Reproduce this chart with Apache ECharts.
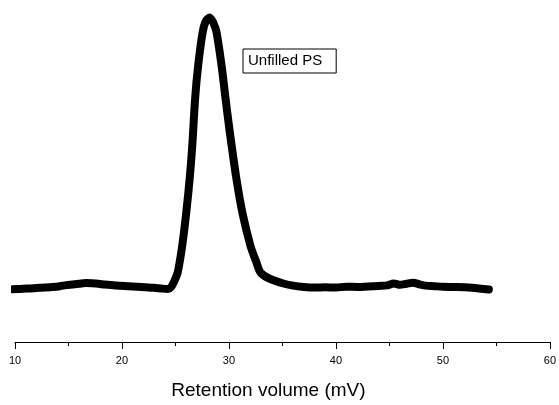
<!DOCTYPE html>
<html>
<head>
<meta charset="utf-8">
<script src="https://cdn.jsdelivr.net/npm/echarts@6/dist/echarts.min.js"></script>
<style>
html,body{margin:0;padding:0;background:#fff;}
#chart{width:559px;height:405px;}
</style>
</head>
<body>
<div id="chart"></div>
<script>
// Retention volume values (x) and detector signal (y, arbitrary units)
var retentionVolume = [
  9.8, 10.5, 11.2, 12.0, 12.8, 13.5, 14.2, 14.8, 15.4, 16.0, 16.6, 17.2, 17.8, 18.4, 19.0, 19.8,
  20.6, 21.4, 22.2, 23.0, 23.8, 24.3, 24.6, 24.9, 25.21, 25.63, 26.0, 26.32, 26.56, 26.84, 27.12,
  27.54, 27.82, 28.19, 28.56, 28.84, 29.31, 29.68, 30.06, 30.71, 31.27, 32.01, 32.57, 32.95,
  33.69, 35.0, 36.0, 37.0, 38.0, 39.0, 40.0, 41.0, 42.0, 43.0, 44.0, 44.8, 45.4, 46.0, 46.6,
  47.2, 47.8, 48.4, 49.2, 50.0, 51.0, 52.0, 53.0, 54.3
];
var signal = [
  -0.4, -0.3, -0.2, 0.0, 0.2, 0.4, 0.7, 1.1, 1.3, 1.6, 1.9, 1.8, 1.6, 1.3, 1.1, 0.9,
  0.7, 0.5, 0.3, 0.1, -0.2, -0.3, 0.4, 2.6, 5.8, 15.7, 27.7, 40.2, 52.2, 70.4, 82.5,
  94.9, 98.9, 100.4, 98.2, 94.9, 82.5, 70.4, 58.4, 40.2, 27.7, 15.7, 9.5, 5.8,
  3.7, 1.8, 0.9, 0.4, 0.2, 0.3, 0.2, 0.5, 0.4, 0.6, 0.8, 1.0, 1.7, 1.2, 1.6,
  2.0, 1.4, 0.9, 0.7, 0.5, 0.4, 0.3, 0.0, -0.5
];
var seriesName = 'Unfilled PS';
var xTicks = [10, 20, 30, 40, 50, 60];

var data = retentionVolume.map(function (v, i) { return [v, signal[i]]; });

var chart = echarts.init(document.getElementById('chart'), null, {renderer: 'canvas'});
chart.setOption({
  animation: false,
  backgroundColor: '#fff',
  grid: {left: 15, right: 8, top: 5, bottom: 55, containLabel: false},
  legend: {
    data: [seriesName],
    left: 243, top: 49,
    icon: 'none', itemWidth: 0, itemHeight: 0, itemGap: 0,
    borderColor: '#000', borderWidth: 1, borderRadius: 0,
    padding: [4, 14, 4, 0],
    textStyle: {fontFamily: 'Liberation Sans, Arial', fontSize: 15, color: '#000', lineHeight: 16}
  },
  xAxis: {
    type: 'value', min: xTicks[0], max: xTicks[xTicks.length - 1], interval: 10,
    name: 'Retention volume (mV)', nameLocation: 'middle', nameGap: 39,
    nameTextStyle: {fontFamily: 'Liberation Sans, Arial', fontSize: 19, color: '#000', padding: [0, 28, 0, 0]},
    axisLine: {show: true, onZero: false, lineStyle: {color: '#000', width: 1}},
    axisTick: {show: true, inside: false, length: 7, lineStyle: {color: '#000', width: 1}},
    minorTick: {show: true, splitNumber: 2, length: 4, lineStyle: {color: '#000', width: 1}},
    axisLabel: {fontFamily: 'Liberation Sans, Arial', fontSize: 11, color: '#000', margin: 13},
    splitLine: {show: false}
  },
  yAxis: {type: 'value', min: -20, max: 105, show: false, splitLine: {show: false}},
  series: [{
    name: seriesName, type: 'line', data: data, showSymbol: false, smooth: 0.3,
    lineStyle: {color: '#000', width: 8, join: 'round', cap: 'round'},
    itemStyle: {color: '#000'}
  }]
});
</script>
</body>
</html>
